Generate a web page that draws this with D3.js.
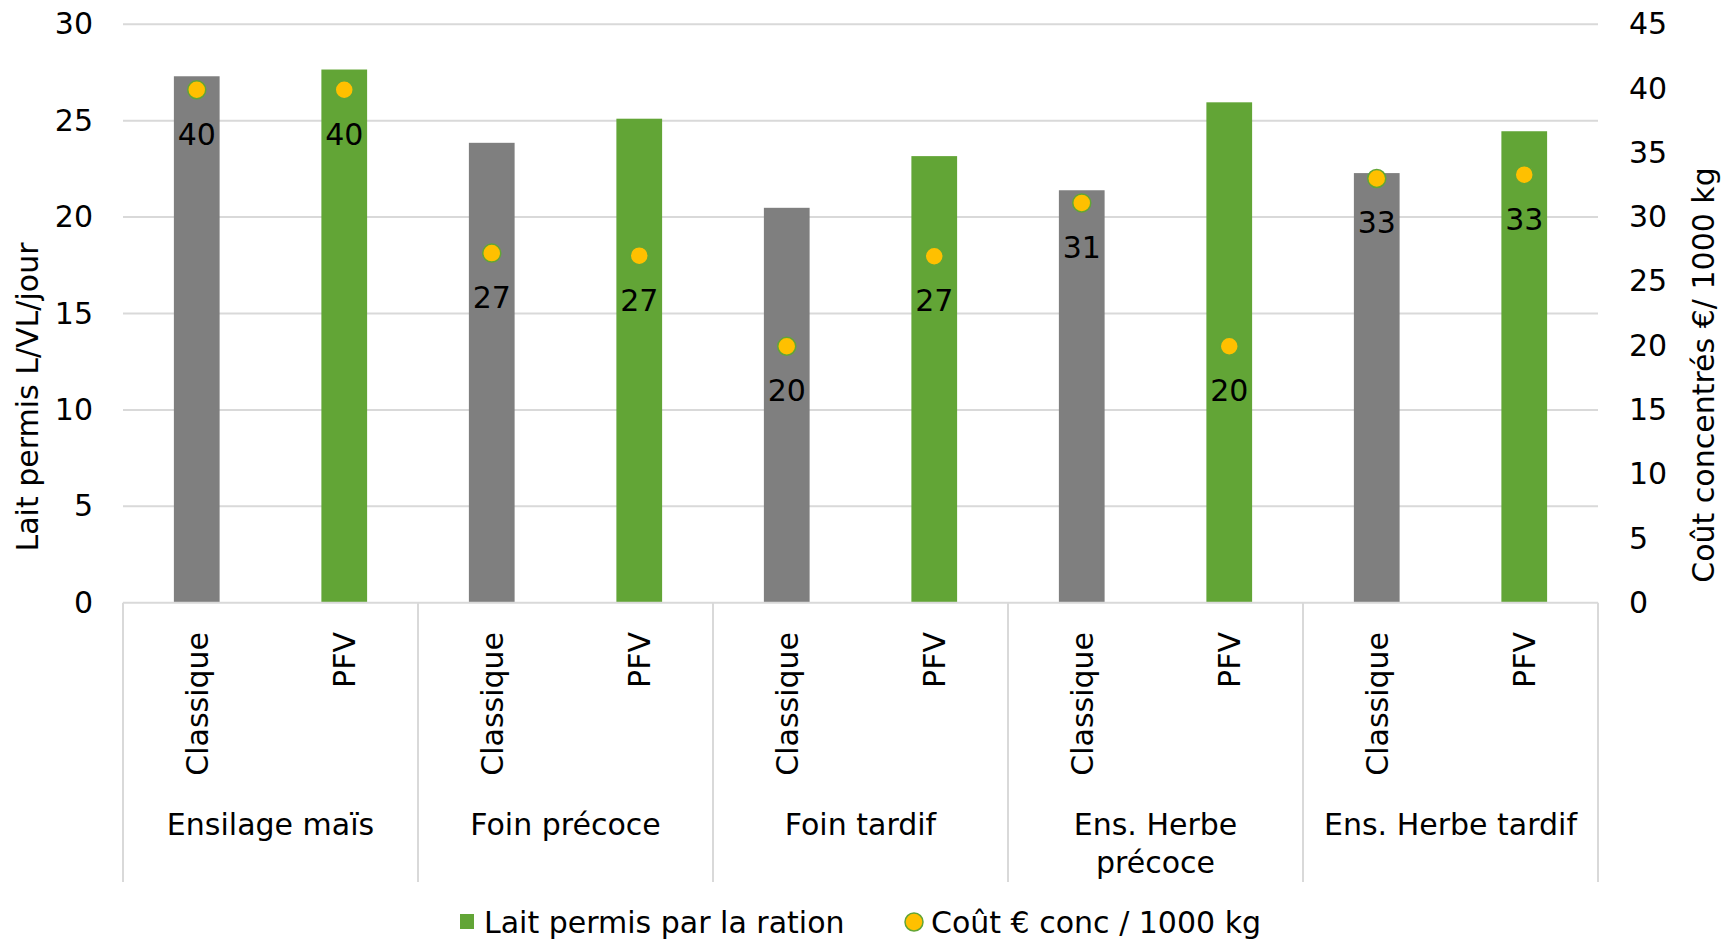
<!DOCTYPE html>
<html><head><meta charset="utf-8">
<script src="https://cdn.jsdelivr.net/npm/d3@7"></script>
<style>
html,body{margin:0;padding:0;background:#fff;}
svg{display:block;}
text{font-family:"Century Gothic","DejaVu Sans",sans-serif;fill:#000;}
</style></head>
<body>
<script>
// ---- data ----
const groups = ["Ensilage maïs", "Foin précoce", "Foin tardif", "Ens. Herbe précoce", "Ens. Herbe tardif"];
const groupLines = [["Ensilage maïs"], ["Foin précoce"], ["Foin tardif"], ["Ens. Herbe", "précoce"], ["Ens. Herbe tardif"]];
const types = ["Classique", "PFV"];
const lait = [27.3, 27.65, 23.85, 25.1, 20.48, 23.16, 21.39, 25.95, 22.28, 24.45];
const cout = [39.9, 39.9, 27.2, 27.0, 19.95, 26.95, 31.1, 19.95, 33.0, 33.3];
const leftTicks = [0, 5, 10, 15, 20, 25, 30];
const rightTicks = [0, 5, 10, 15, 20, 25, 30, 35, 40, 45];
const leftTitle = "Lait permis L/VL/jour";
const rightTitle = "Coût concentrés €/ 1000 kg";
const legendLabels = ["Lait permis par la ration", "Coût € conc / 1000 kg"];

const W = 1725, H = 941;
const FS = 30;
const plot = {l: 123, r: 1598, t: 24.2, b: 602.8};
const GRAY = "#7F7F7F", GREEN = "#62A536", GOLD = "#FFC000", GRID = "#D9D9D9";

const svg = d3.select("body").append("svg").attr("width", W).attr("height", H);

const rows = [];
groups.forEach((g, gi) => types.forEach((t, ti) => rows.push({g, gi, t, ti, key: gi + "-" + t})));
rows.forEach((r, i) => { r.lait = lait[i]; r.cout = cout[i]; });

const x = d3.scaleBand().domain(rows.map(r => r.key)).range([plot.l, plot.r]).paddingInner(0.69).paddingOuter(0.345);
const yL = d3.scaleLinear().domain([0, 30]).range([plot.b, plot.t]);
const yR = d3.scaleLinear().domain([0, 45]).range([plot.b, plot.t]);
const xg = d3.scaleBand().domain(groups).range([plot.l, plot.r]);

// gridlines
svg.append("g").selectAll("line").data(leftTicks.filter(d => d > 0)).join("line")
  .attr("x1", plot.l).attr("x2", plot.r).attr("y1", d => yL(d)).attr("y2", d => yL(d))
  .attr("stroke", GRID).attr("stroke-width", 2);

// left axis
const gL = svg.append("g").attr("transform", `translate(${plot.l},0)`)
  .call(d3.axisLeft(yL).tickValues(leftTicks).tickSize(0).tickPadding(30));
gL.select(".domain").remove();
gL.selectAll("text").style("font-size", FS + "px").attr("fill", "#000");

// right axis
const gR = svg.append("g").attr("transform", `translate(${plot.r},0)`)
  .call(d3.axisRight(yR).tickValues(rightTicks).tickSize(0).tickPadding(31));
gR.select(".domain").remove();
gR.selectAll("text").style("font-size", FS + "px").attr("fill", "#000");

// bars
svg.append("g").selectAll("rect").data(rows).join("rect")
  .attr("x", d => x(d.key)).attr("width", x.bandwidth())
  .attr("y", d => yL(d.lait)).attr("height", d => yL(0) - yL(d.lait))
  .attr("fill", d => d.ti === 0 ? GRAY : GREEN);

// baseline + category separators
svg.append("line").attr("x1", plot.l).attr("x2", plot.r).attr("y1", plot.b).attr("y2", plot.b)
  .attr("stroke", GRID).attr("stroke-width", 2);
const seps = groups.map(g => xg(g)).concat([plot.r]);
svg.append("g").selectAll("line").data(seps).join("line")
  .attr("x1", d => d).attr("x2", d => d).attr("y1", plot.b).attr("y2", 882)
  .attr("stroke", GRID).attr("stroke-width", 2);

// rotated type labels
svg.append("g").selectAll("text").data(rows).join("text")
  .attr("transform", d => `translate(${x(d.key) + x.bandwidth() / 2 + 11},632) rotate(-90)`)
  .attr("text-anchor", "end").style("font-size", FS + "px").text(d => d.t);

// group labels
const gl = svg.append("g").selectAll("text").data(groups).join("text")
  .attr("x", d => xg(d) + xg.bandwidth() / 2).attr("y", 835)
  .attr("text-anchor", "middle").style("font-size", FS + "px");
gl.each(function(d, i) {
  d3.select(this).selectAll("tspan").data(groupLines[i]).join("tspan")
    .attr("x", xg(d) + xg.bandwidth() / 2).attr("dy", (t, j) => j === 0 ? 0 : 38).text(t => t);
});

// dots + labels
svg.append("g").selectAll("circle").data(rows).join("circle")
  .attr("cx", d => x(d.key) + x.bandwidth() / 2).attr("cy", d => yR(d.cout)).attr("r", 9)
  .attr("fill", GOLD).attr("stroke", GREEN).attr("stroke-width", 1.5);
svg.append("g").selectAll("text").data(rows).join("text")
  .attr("x", d => x(d.key) + x.bandwidth() / 2).attr("y", d => yR(d.cout) + 55)
  .attr("text-anchor", "middle").style("font-size", FS + "px").text(d => d3.format(".0f")(d.cout));

// axis titles
svg.append("text").attr("transform", "translate(38,397) rotate(-90)").attr("text-anchor", "middle")
  .style("font-size", FS + "px").text(leftTitle);
svg.append("text").attr("transform", "translate(1714,375) rotate(-90)").attr("text-anchor", "middle")
  .style("font-size", FS + "px").text(rightTitle);

// legend
const lg = svg.append("g");
lg.append("rect").attr("x", 460).attr("y", 914).attr("width", 14).attr("height", 15).attr("fill", GREEN);
lg.append("text").attr("x", 484).attr("y", 933).style("font-size", FS + "px").text(legendLabels[0]);
lg.append("circle").attr("cx", 914).attr("cy", 922).attr("r", 9).attr("fill", GOLD).attr("stroke", GREEN).attr("stroke-width", 1.5);
lg.append("text").attr("x", 931).attr("y", 933).style("font-size", FS + "px").text(legendLabels[1]);
</script>
</body></html>
